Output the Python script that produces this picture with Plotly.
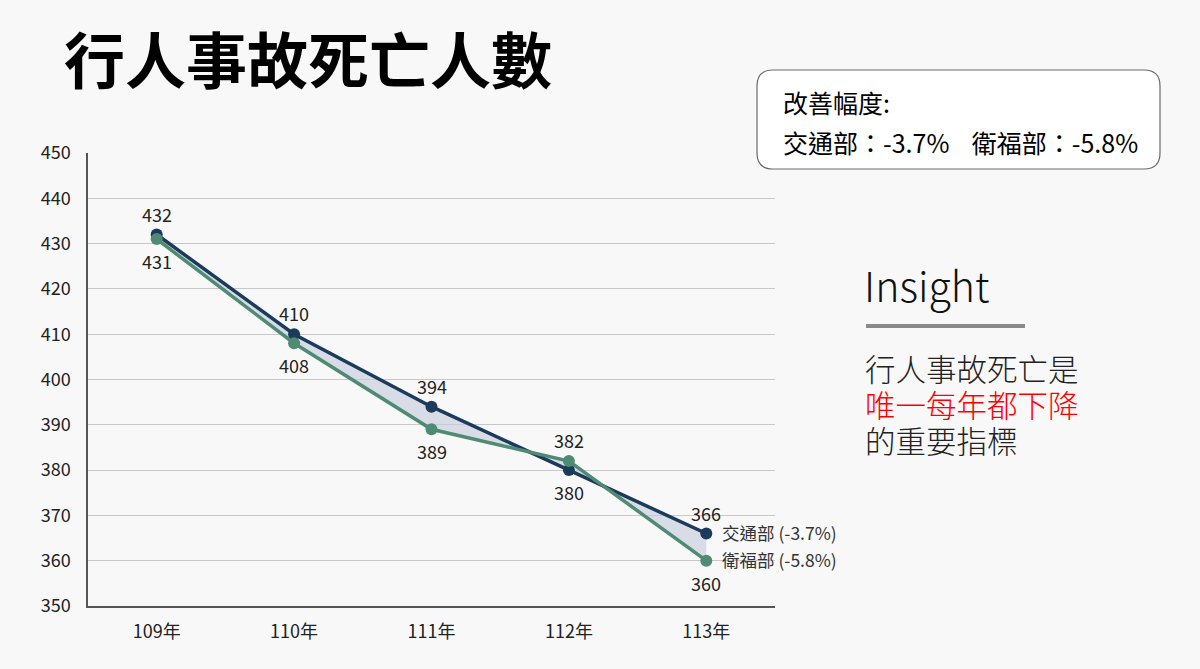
import plotly.graph_objects as go

years = ["109年", "110年", "111年", "112年", "113年"]
moti = [432, 410, 394, 380, 366]   # 交通部
mohw = [431, 408, 389, 382, 360]   # 衛福部
moti_pos = ["top", "top", "top", "bottom", "top"]
mohw_pos = ["bottom", "bottom", "bottom", "top", "bottom"]
y_ticks = [350, 360, 370, 380, 390, 400, 410, 420, 430, 440, 450]

NAVY = "#1b3a5c"
GREEN = "#4f8a72"
FILL = "rgba(196,205,221,0.65)"
CJK = "Noto Sans CJK TC"
BG = "#f8f8f8"

W, H = 1200, 669
L, R, T, B = 88, 775, 153, 606


def px(x):
    return (x - L) / (R - L)


def py(y):
    return (B - y) / (B - T)


fig = go.Figure()
# fill between the two lines
fig.add_trace(go.Scatter(x=years, y=moti, mode="lines", line=dict(width=0, color=NAVY),
                         showlegend=False, hoverinfo="skip"))
fig.add_trace(go.Scatter(x=years, y=mohw, mode="lines", line=dict(width=0, color=GREEN),
                         fill="tonexty", fillcolor=FILL, showlegend=False, hoverinfo="skip"))
# visible lines
fig.add_trace(go.Scatter(x=years, y=moti, mode="lines+markers", name="交通部",
                         line=dict(color=NAVY, width=3.5), marker=dict(size=12, color=NAVY),
                         showlegend=False))
fig.add_trace(go.Scatter(x=years, y=mohw, mode="lines+markers", name="衛福部",
                         line=dict(color=GREEN, width=3.5), marker=dict(size=12, color=GREEN),
                         showlegend=False))

anns = []
for yr, v, p in zip(years, moti, moti_pos):
    anns.append(dict(x=yr, y=v, xref="x", yref="y", text=str(v), showarrow=False,
                     yshift=21 if p == "top" else -22,
                     font=dict(family=CJK, size=18, color="#222")))
for yr, v, p in zip(years, mohw, mohw_pos):
    anns.append(dict(x=yr, y=v, xref="x", yref="y", text=str(v), showarrow=False,
                     yshift=21 if p == "top" else -22,
                     font=dict(family=CJK, size=18, color="#222")))
anns.append(dict(x=years[-1], y=moti[-1], xref="x", yref="y", text="交通部 (-3.7%)",
                 showarrow=False, xanchor="left", xshift=14, yshift=1,
                 font=dict(family=CJK, size=17.5, color="#333")))
anns.append(dict(x=years[-1], y=mohw[-1], xref="x", yref="y", text="衛福部 (-5.8%)",
                 showarrow=False, xanchor="left", xshift=14, yshift=1,
                 font=dict(family=CJK, size=17.5, color="#333")))

# title
anns.append(dict(x=px(62), y=py(57), xref="paper", yref="paper", text="<b>行人事故死亡人數</b>",
                 showarrow=False, xanchor="left", yanchor="middle",
                 font=dict(family=CJK, size=61, color="#000")))
# box text
anns.append(dict(x=px(781), y=py(102), xref="paper", yref="paper", text="改善幅度:",
                 showarrow=False, xanchor="left", yanchor="middle",
                 font=dict(family=CJK, size=25, color="#000")))
anns.append(dict(x=px(781), y=py(142), xref="paper", yref="paper",
                 text="交通部：-3.7%&nbsp;&nbsp;&nbsp;&nbsp;衛福部：-5.8%",
                 showarrow=False, xanchor="left", yanchor="middle",
                 font=dict(family=CJK, size=25, color="#000")))
# insight
anns.append(dict(x=px(862), y=py(284), xref="paper", yref="paper", text="Insight",
                 showarrow=False, xanchor="left", yanchor="middle",
                 font=dict(family=CJK, size=41, color="#111", weight=300)))
for i, (txt, col) in enumerate([("行人事故死亡是", "#222"), ("唯一每年都下降", "#ff0000"),
                                 ("的重要指標", "#222")]):
    anns.append(dict(x=px(863), y=py(368 + 36 * i), xref="paper", yref="paper", text=txt,
                     showarrow=False, xanchor="left", yanchor="middle",
                     font=dict(family=CJK, size=30.5, color=col, weight=300)))

# rounded box path
x0, x1, y0, y1, r = 757, 1160, 70, 169, 16


def P(x, y):
    return f"{px(x):.5f},{py(y):.5f}"


path = (f"M {P(x0 + r, y0)} L {P(x1 - r, y0)} Q {P(x1, y0)} {P(x1, y0 + r)} "
        f"L {P(x1, y1 - r)} Q {P(x1, y1)} {P(x1 - r, y1)} "
        f"L {P(x0 + r, y1)} Q {P(x0, y1)} {P(x0, y1 - r)} "
        f"L {P(x0, y0 + r)} Q {P(x0, y0)} {P(x0 + r, y0)} Z")
shapes = [
    dict(type="path", xref="paper", yref="paper", path=path,
         line=dict(color="#6a6a6a", width=1.2), fillcolor="#ffffff", layer="above"),
    dict(type="line", xref="paper", yref="paper", x0=px(866), x1=px(1025), y0=py(326), y1=py(326),
         line=dict(color="#8a8a8a", width=4)),
]

fig.update_layout(
    width=W, height=H,
    margin=dict(l=L, r=W - R, t=T, b=H - B),
    paper_bgcolor=BG, plot_bgcolor=BG,
    annotations=anns, shapes=shapes, showlegend=False,
    xaxis=dict(range=[-0.5, 4.5], showgrid=False, showline=True, linecolor="#555", linewidth=1.5,
               ticks="", tickfont=dict(family=CJK, size=18, color="#222"), zeroline=False,
               ticklabelstandoff=9, fixedrange=True),
    yaxis=dict(range=[350, 450], tickvals=y_ticks, showgrid=True, gridcolor="#c8c8c8", gridwidth=1.2,
               showline=True, linecolor="#555", linewidth=1.5, ticks="", zeroline=False,
               tickfont=dict(family=CJK, size=18, color="#222"), ticklabelstandoff=12,
               fixedrange=True),
)

fig.write_html(
    "out.html",
    config={"displayModeBar": False},
    post_script="document.body.style.margin='0';document.body.style.overflow='hidden';"
                "document.body.style.background='" + BG + "';",
)
